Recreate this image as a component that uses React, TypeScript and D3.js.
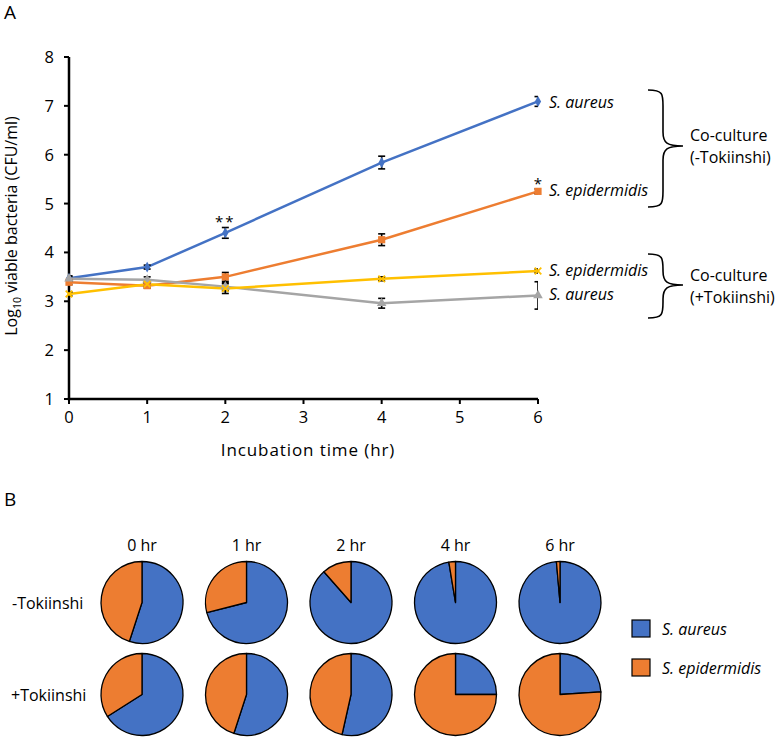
import * as d3 from "d3";

// Panel A: log10 viable bacteria over time
const times = [0, 1, 2, 4, 6];
const aureusMinus = [3.47, 3.7, 4.4, 5.84, 7.09];
const epiMinus = [3.39, 3.32, 3.5, 4.26, 5.25];
const aureusPlus = [3.46, 3.44, 3.3, 2.96, 3.12];
const epiPlus = [3.15, 3.35, 3.26, 3.46, 3.62];
const aureusMinusErr = [0.05, 0.04, 0.11, 0.13, 0.1];
const epiMinusErr = [0.05, 0.05, 0.09, 0.12, 0.05];
const aureusPlusErr = [0.05, 0.06, 0.08, 0.1, 0.28];
const epiPlusErr = [0.04, 0.05, 0.1, 0.04, 0.04];
const yTicks = [1, 2, 3, 4, 5, 6, 7, 8];
const xTicks = [0, 1, 2, 3, 4, 5, 6];

// Panel B: share of S. aureus (%) in each co-culture
const pieLabels = ["0 hr", "1 hr", "2 hr", "4 hr", "6 hr"];
const rowLabels = ["-Tokiinshi", "+Tokiinshi"];
const aureusShareMinus = [55, 71, 88.5, 97.4, 98.6];
const aureusSharePlus = [66, 55, 53.5, 25, 24];

const BLUE = "#4472C4";
const ORANGE = "#ED7D31";
const GRAY = "#A5A5A5";
const YELLOW = "#FFC000";
const FONT = "'Open Sans', sans-serif";

type Series = {
  values: number[];
  errs: number[];
  color: string;
  symbol: d3.SymbolType;
  size: number;
  stroke?: boolean;
};

export default function App() {
  const x = d3.scaleLinear().domain([0, 6]).range([69, 538]);
  const y = d3.scaleLinear().domain([1, 8]).range([399, 57]);

  const series: Series[] = [
    { values: aureusMinus, errs: aureusMinusErr, color: BLUE, symbol: d3.symbolDiamond, size: 34 },
    { values: epiMinus, errs: epiMinusErr, color: ORANGE, symbol: d3.symbolSquare, size: 52 },
    { values: aureusPlus, errs: aureusPlusErr, color: GRAY, symbol: d3.symbolTriangle, size: 40 },
    { values: epiPlus, errs: epiPlusErr, color: YELLOW, symbol: d3.symbolX, size: 30, stroke: true },
  ];

  const line = d3
    .line<number>()
    .x((_, i) => x(times[i]))
    .y((d) => y(d));

  // Curly brace path, vertical, tip pointing right
  const brace = (x0: number, y0: number, y1: number, tipY: number) => {
    const xm = x0 + 15;
    const xt = x0 + 35;
    return `M${x0},${y0} C${xm},${y0} ${xm},${y0 + 4} ${xm},${y0 + 16} L${xm},${tipY - 14} C${xm},${tipY - 3} ${xm + 4},${tipY} ${xt},${tipY} C${xm + 4},${tipY} ${xm},${tipY + 3} ${xm},${tipY + 14} L${xm},${y1 - 16} C${xm},${y1 - 4} ${xm},${y1} ${x0},${y1}`;
  };

  const pieGen = d3.pie<number>().sort(null).value((d) => d);
  const R = 41;
  const arc = d3.arc<d3.PieArcDatum<number>>().innerRadius(0).outerRadius(R);
  const colX = d3.scalePoint<string>().domain(pieLabels).range([142, 560]);
  const rowY = [602.5, 694.5];

  return (
    <svg
      width={777}
      height={740}
      style={{ position: "absolute", left: 0, top: 0, background: "#fff" }}
      fontFamily={FONT}
    >
      <defs>
        <clipPath id="plot-clip">
          <rect x={x(0)} y={40} width={x(6) - x(0)} height={370} />
        </clipPath>
      </defs>
      <rect width={777} height={740} fill="#fff" />

      {/* Panel A */}
      <text x={4} y={19} fontSize={19}>A</text>

      {/* axes */}
      <line x1={x(0)} x2={x(0)} y1={y(8)} y2={y(1) + 1.2} stroke="#000" strokeWidth={2.5} />
      <line x1={x(0) - 1.2} x2={x(6)} y1={y(1)} y2={y(1)} stroke="#000" strokeWidth={2.5} />
      {yTicks.map((t) => (
        <g key={"yt" + t}>
          <line x1={x(0) - 5} x2={x(0)} y1={y(t)} y2={y(t)} stroke="#000" strokeWidth={2} />
          <text x={54} y={y(t) + 6} textAnchor="end" fontSize={16.5}>{t}</text>
        </g>
      ))}
      {xTicks.map((t) => (
        <g key={"xt" + t}>
          <line x1={x(t)} x2={x(t)} y1={y(1)} y2={y(1) + 5} stroke="#000" strokeWidth={2} />
          <text x={x(t)} y={423} textAnchor="middle" fontSize={16.5}>{t}</text>
        </g>
      ))}
      <text x={308} y={456} textAnchor="middle" fontSize={17} letterSpacing={0.9}>
        Incubation time (hr)
      </text>
      <text transform="translate(17,226) rotate(-90)" textAnchor="middle" fontSize={16}>
        Log<tspan fontSize={10.5} dy={4}>10</tspan>
        <tspan dy={-4}> viable bacteria (CFU/ml)</tspan>
      </text>

      {/* lines */}
      {series.map((s, k) => (
        <path key={"l" + k} d={line(s.values) ?? ""} fill="none" stroke={s.color} strokeWidth={2.5} />
      ))}
      {/* error bars */}
      <g clipPath="url(#plot-clip)">
        {series.map((s, k) =>
          s.values.map((v, i) => {
            const cx = x(times[i]);
            const top = y(v + s.errs[i]);
            const bot = y(v - s.errs[i]);
            return (
              <g key={`e${k}-${i}`} stroke="#000" strokeWidth={1.6}>
                <line x1={cx} x2={cx} y1={top} y2={bot} />
                <line x1={cx - 3.5} x2={cx + 3.5} y1={top} y2={top} />
                <line x1={cx - 3.5} x2={cx + 3.5} y1={bot} y2={bot} />
              </g>
            );
          })
        )}
      </g>
      {/* markers */}
      {series.map((s, k) =>
        s.values.map((v, i) => (
          <path
            key={`m${k}-${i}`}
            transform={`translate(${x(times[i])},${y(v)})`}
            d={d3.symbol(s.symbol, s.size)() ?? ""}
            fill={s.stroke ? "none" : s.color}
            stroke={s.color}
            strokeWidth={s.stroke ? 1.8 : 0}
          />
        ))
      )}

      {/* significance marks */}
      <text x={x(2)} y={227} textAnchor="middle" fontSize={15} letterSpacing={2}>**</text>
      <text x={x(6)} y={189} textAnchor="middle" fontSize={15}>*</text>

      {/* series labels */}
      <g fontSize={16} fontStyle="italic">
        <text x={x(6) + 11} y={108}>S. aureus</text>
        <text x={x(6) + 11} y={196}>S. epidermidis</text>
        <text x={x(6) + 11} y={276}>S. epidermidis</text>
        <text x={x(6) + 11} y={300}>S. aureus</text>
      </g>
      <path d={brace(648, 90, 207, 146)} fill="none" stroke="#000" strokeWidth={1.6} />
      <path d={brace(648, 254, 318, 285)} fill="none" stroke="#000" strokeWidth={1.6} />
      <g fontSize={16}>
        <text x={690} y={141}>Co-culture</text>
        <text x={690} y={163}>(-Tokiinshi)</text>
        <text x={690} y={281}>Co-culture</text>
        <text x={690} y={303}>(+Tokiinshi)</text>
      </g>

      {/* Panel B */}
      <text x={4} y={506} fontSize={19}>B</text>
      {pieLabels.map((l) => (
        <text key={l} x={colX(l)} y={551} textAnchor="middle" fontSize={16}>{l}</text>
      ))}
      {rowLabels.map((l, r) => (
        <text key={l} x={r === 0 ? 12 : 11} y={rowY[r] + 6} fontSize={16}>{l}</text>
      ))}
      {[aureusShareMinus, aureusSharePlus].map((shares, r) =>
        shares.map((share, i) => {
          const arcs = pieGen([share, 100 - share]);
          return (
            <g key={`p${r}-${i}`} transform={`translate(${colX(pieLabels[i])},${rowY[r]})`}>
              {arcs.map((a, j) => (
                <path
                  key={j}
                  d={arc(a) ?? ""}
                  fill={j === 0 ? BLUE : ORANGE}
                  stroke="#000"
                  strokeWidth={1.3}
                  strokeLinejoin="round"
                />
              ))}
            </g>
          );
        })
      )}

      {/* legend */}
      <rect x={632} y={620} width={18} height={17} fill={BLUE} stroke="#000" strokeWidth={1.2} />
      <rect x={632} y={659} width={18} height={17} fill={ORANGE} stroke="#000" strokeWidth={1.2} />
      <g fontSize={16} fontStyle="italic">
        <text x={662} y={635}>S. aureus</text>
        <text x={662} y={674}>S. epidermidis</text>
      </g>
    </svg>
  );
}
